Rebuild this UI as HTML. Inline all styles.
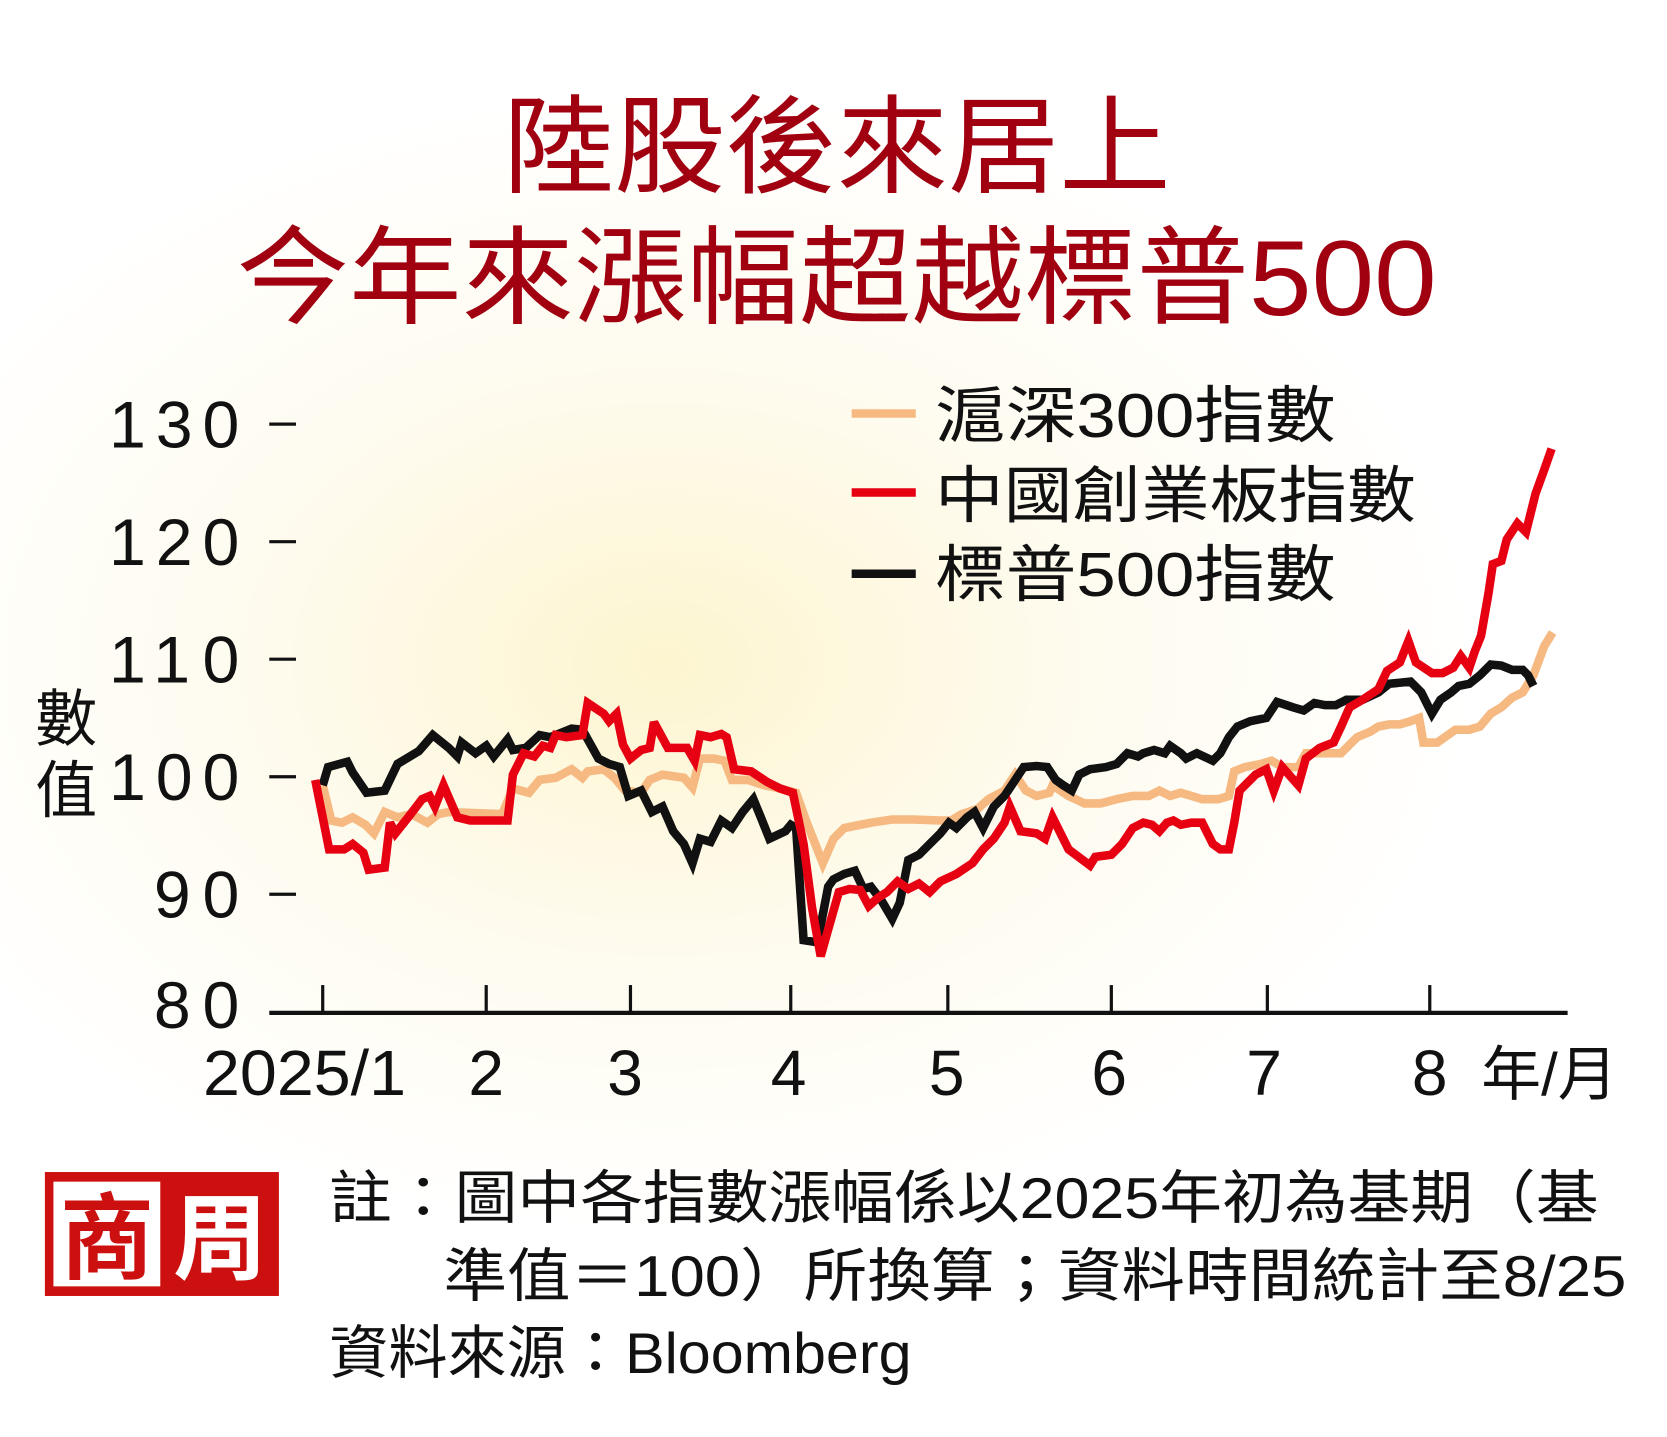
<!DOCTYPE html>
<html><head><meta charset="utf-8"><style>
html,body{margin:0;padding:0;background:#fff}
svg{display:block}
text{font-family:"Liberation Sans","Noto Sans CJK TC",sans-serif}
</style></head><body>
<svg width="1667" height="1437" viewBox="0 0 1560 1345" preserveAspectRatio="none" xmlns="http://www.w3.org/2000/svg">
<defs>
<radialGradient id="g" cx="620" cy="620" r="760" gradientUnits="userSpaceOnUse" gradientTransform="translate(620 620) scale(1 0.7) translate(-620 -620)">
<stop offset="0" stop-color="#fdf5d0"/><stop offset="0.5" stop-color="#fefbee"/><stop offset="1" stop-color="#ffffff"/>
</radialGradient>
</defs>
<rect width="1560" height="1345" fill="url(#g)"/>
<text x="783" y="172" font-size="100" fill="#a0000f" text-anchor="middle" textLength="625" lengthAdjust="spacingAndGlyphs">陸股後來居上</text>
<text x="783" y="295" font-size="100" fill="#a0000f" text-anchor="middle" textLength="1123" lengthAdjust="spacingAndGlyphs">今年來漲幅超越標普500</text>
<g font-size="62" fill="#111" text-anchor="end">
<text x="224" y="419" textLength="122" lengthAdjust="spacing">130</text><text x="224" y="529" textLength="122" lengthAdjust="spacing">120</text><text x="224" y="639" textLength="122" lengthAdjust="spacing">110</text><text x="224" y="749" textLength="122" lengthAdjust="spacing">100</text><text x="224" y="859" textLength="80" lengthAdjust="spacing">90</text><text x="224" y="962" textLength="80" lengthAdjust="spacing">80</text>
</g>
<g stroke="#111" stroke-width="3">
<line x1="252" y1="397" x2="277" y2="397"/><line x1="252" y1="507" x2="277" y2="507"/><line x1="252" y1="617" x2="277" y2="617"/><line x1="252" y1="727" x2="277" y2="727"/><line x1="252" y1="837" x2="277" y2="837"/>
<line x1="252" y1="948" x2="1467" y2="948" stroke-width="4"/>
<line x1="302" y1="948" x2="302" y2="922"/><line x1="455" y1="948" x2="455" y2="922"/><line x1="590" y1="948" x2="590" y2="922"/><line x1="740" y1="948" x2="740" y2="922"/><line x1="887" y1="948" x2="887" y2="922"/><line x1="1040" y1="948" x2="1040" y2="922"/><line x1="1186" y1="948" x2="1186" y2="922"/><line x1="1338" y1="948" x2="1338" y2="922"/>
</g>
<text x="62" y="693" font-size="58" fill="#111" text-anchor="middle">數</text>
<text x="62" y="760" font-size="58" fill="#111" text-anchor="middle">值</text>
<g font-size="60" fill="#111" text-anchor="middle">
<text x="285" y="1025" textLength="190" lengthAdjust="spacingAndGlyphs">2025/1</text>
<text x="455" y="1025">2</text><text x="585" y="1025">3</text><text x="738" y="1025">4</text><text x="886" y="1025">5</text><text x="1038" y="1025">6</text><text x="1183" y="1025">7</text><text x="1338" y="1025">8</text>
<text x="1450" y="1025" font-size="56">年/月</text>
</g>
<line x1="797" y1="387" x2="857" y2="387" stroke="#f5b981" stroke-width="8"/>
<line x1="797" y1="461" x2="857" y2="461" stroke="#e60012" stroke-width="8"/>
<line x1="797" y1="537" x2="857" y2="537" stroke="#111" stroke-width="8"/>
<g font-size="58" fill="#111">
<text x="875" y="409" textLength="375" lengthAdjust="spacingAndGlyphs">滬深300指數</text>
<text x="875" y="484" textLength="450" lengthAdjust="spacingAndGlyphs">中國創業板指數</text>
<text x="875" y="558" textLength="375" lengthAdjust="spacingAndGlyphs">標普500指數</text>
</g>
<g fill="none" stroke-width="8" stroke-linejoin="miter" stroke-miterlimit="3">
<polyline stroke="#f5b981" points="302,735 310,768 320,770 330,765 342,772 350,780 360,760 372,765 385,762 400,770 410,762 420,760 470,762 480,738 495,742 505,730 520,728 535,720 545,728 550,722 565,720 575,728 585,740 600,742 608,730 620,725 640,728 648,737 655,710 668,710 678,712 685,730 700,730 715,735 730,738 745,742 755,770 770,808 780,785 790,775 800,773 815,770 835,767 855,767 880,768 890,768 900,762 915,757 925,748 940,740 950,725 960,740 970,745 982,742 985,735 1000,745 1015,752 1030,752 1045,748 1060,745 1075,745 1085,740 1095,745 1105,742 1115,745 1125,748 1140,748 1150,745 1155,722 1165,718 1180,715 1190,712 1200,718 1215,718 1222,705 1235,705 1248,705 1255,705 1260,700 1270,690 1282,685 1290,680 1300,678 1310,678 1320,675 1328,672 1332,695 1345,695 1355,688 1362,683 1375,683 1385,680 1395,668 1405,662 1415,653 1425,648 1435,632 1445,605 1453,592"/>
<polyline stroke="#111" points="302,735 307,718 325,713 330,723 343,742 360,740 372,715 392,703 405,688 420,700 428,708 432,695 445,705 455,698 462,708 475,692 480,702 492,700 505,688 515,690 535,682 545,683 560,710 570,715 580,718 588,745 600,740 610,760 620,755 630,778 640,790 648,808 655,785 665,788 675,768 685,775 695,760 705,748 712,765 720,785 735,778 740,772 745,775 752,880 765,882 775,830 780,823 790,818 800,815 808,832 815,830 825,843 835,860 842,845 850,805 860,800 870,790 880,780 888,770 895,775 905,765 912,760 920,775 930,755 940,745 950,730 958,718 970,717 980,718 988,730 995,735 1003,740 1010,725 1020,720 1035,718 1045,715 1055,705 1065,708 1070,705 1080,702 1090,705 1095,698 1105,705 1110,710 1120,705 1135,712 1142,705 1150,690 1158,680 1170,675 1185,672 1195,657 1210,662 1220,665 1230,658 1240,660 1250,660 1260,655 1275,655 1290,648 1300,640 1320,638 1330,648 1340,668 1348,655 1358,648 1365,642 1375,640 1385,632 1395,622 1405,623 1415,627 1425,627 1430,632 1435,642"/>
<polyline stroke="#e60012" points="295,730 308,795 322,795 330,790 340,798 345,814 360,812 365,770 370,780 382,765 395,748 402,745 407,755 415,735 428,765 440,768 475,768 480,725 490,705 500,708 508,698 515,700 520,688 530,690 545,688 550,658 565,668 570,675 577,668 583,697 590,710 600,702 608,700 612,676 625,700 643,700 650,712 655,688 665,690 675,687 680,690 687,720 703,722 718,732 730,738 742,742 752,790 760,850 768,895 775,870 785,835 795,832 805,833 813,848 822,840 830,835 840,825 850,832 860,827 870,835 880,825 895,818 910,808 920,795 930,785 940,770 945,755 955,778 970,780 978,785 985,765 1000,795 1020,810 1025,802 1040,800 1050,790 1060,775 1070,770 1078,772 1085,778 1092,770 1098,768 1105,772 1115,770 1125,770 1135,790 1142,795 1150,795 1155,770 1160,740 1175,725 1185,720 1192,740 1200,718 1215,735 1222,710 1235,700 1248,695 1255,680 1263,662 1275,655 1290,645 1298,628 1310,620 1318,600 1325,620 1340,630 1350,630 1360,625 1367,614 1375,625 1380,610 1386,595 1393,555 1397,528 1405,525 1410,505 1420,490 1428,498 1437,462 1445,440 1452,420"/>
</g>
<rect x="42" y="1097" width="219" height="116" fill="#cc1010"/>
<rect x="50" y="1106" width="100" height="98" fill="#fff"/>
<text x="100" y="1190" font-size="88" fill="#cc1010" text-anchor="middle" font-weight="bold">商</text>
<text x="206" y="1190" font-size="88" fill="#fff" text-anchor="middle" font-weight="bold">周</text>
<g font-size="54" fill="#111">
<text x="308" y="1140" textLength="1188" lengthAdjust="spacingAndGlyphs">註：圖中各指數漲幅係以2025年初為基期（基</text>
<text x="415" y="1213" textLength="1107" lengthAdjust="spacingAndGlyphs">準值＝100）所換算；資料時間統計至8/25</text>
<text x="308" y="1285" textLength="545" lengthAdjust="spacingAndGlyphs">資料來源：Bloomberg</text>
</g>
</svg>
</body></html>
